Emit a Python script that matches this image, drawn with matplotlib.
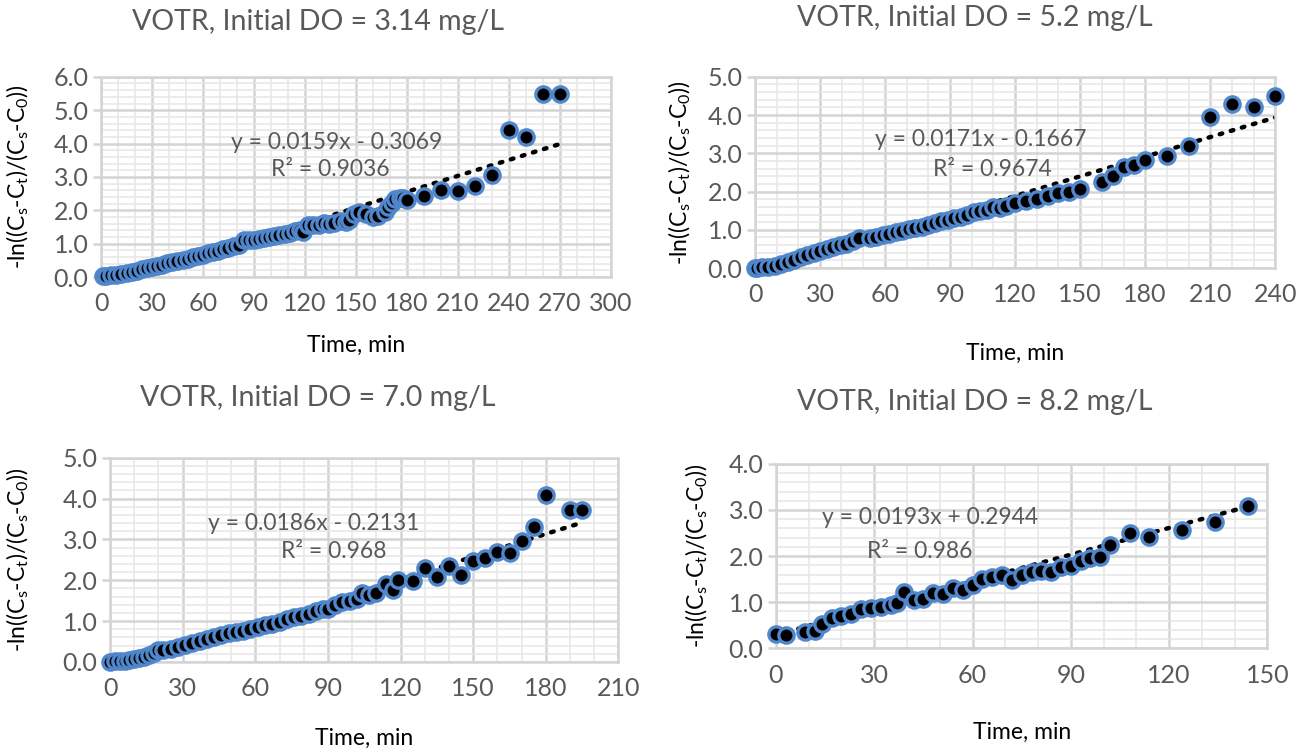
import numpy as np
import matplotlib
matplotlib.use('Agg')
import matplotlib.pyplot as plt
from matplotlib.ticker import MultipleLocator, FormatStrFormatter

plt.rcParams['font.family'] = ['Lato', 'DejaVu Sans']
plt.rcParams['mathtext.fontset'] = 'custom'
plt.rcParams['mathtext.rm'] = 'Lato'
plt.rcParams['mathtext.default'] = 'regular'

# --- data ---
titles = ['VOTR, Initial DO = 3.14 mg/L', 'VOTR, Initial DO = 5.2 mg/L',
          'VOTR, Initial DO = 7.0 mg/L', 'VOTR, Initial DO = 8.2 mg/L']

t1 = [1, 3, 6, 9, 12, 15, 18, 21, 24, 27, 30, 33, 36, 39, 42, 45, 48, 51, 54, 57,
      60, 63, 66, 69, 72, 75, 78, 81, 84, 87, 90, 93, 96, 99, 102, 105, 108, 111, 114, 117,
      119, 122, 125, 128, 131, 134, 137,
      141, 144, 146, 149, 152, 156, 160, 163, 167, 169, 171, 173, 176, 178, 180,
      190, 200, 210, 220, 230, 240, 250, 260, 270]
y1 = [0.02, 0.03, 0.05, 0.07, 0.09, 0.12, 0.16, 0.19, 0.23, 0.27,
      0.30, 0.34, 0.37, 0.41, 0.45, 0.49, 0.52, 0.55, 0.59, 0.63,
      0.67, 0.71, 0.75, 0.78, 0.83, 0.88, 0.92, 0.97, 1.12, 1.10,
      1.11, 1.14, 1.16, 1.19, 1.22, 1.26, 1.29, 1.33, 1.38, 1.41,
      1.36, 1.56, 1.55, 1.56, 1.62, 1.58, 1.61,
      1.68, 1.66, 1.70, 1.90, 1.94, 1.88, 1.80, 1.84, 1.95, 2.10, 2.22, 2.33, 2.38, 2.38, 2.30,
      2.42, 2.60, 2.57, 2.74, 3.06, 4.42, 4.21, 5.49, 5.49]

t2 = [0, 1, 3, 6, 9, 12, 15, 18, 21, 24, 27, 30, 33, 36, 39, 42, 45, 48,
      53, 56, 59, 62, 65, 68, 71, 74, 77, 80, 83, 86, 89, 92, 95, 98, 101, 104, 107, 110, 113, 116,
      120, 125, 130, 135, 140, 145, 150,
      160, 165, 170, 175, 180, 190, 200, 210, 220, 230, 240]
y2 = [0.0, 0.0, 0.02, 0.04, 0.06, 0.10, 0.16, 0.22, 0.28, 0.34, 0.40, 0.45, 0.50, 0.55, 0.60, 0.63, 0.70, 0.78,
      0.78, 0.82, 0.87, 0.90, 0.94, 0.98, 1.02, 1.05, 1.08, 1.12, 1.17, 1.22, 1.26, 1.30, 1.34, 1.40, 1.46,
      1.50, 1.52, 1.60, 1.58, 1.62,
      1.70, 1.75, 1.80, 1.88, 1.95, 2.00, 2.08,
      2.25, 2.40, 2.65, 2.70, 2.83, 2.93, 3.20, 3.96, 4.30, 4.20, 4.51]

t3 = [0, 2, 4, 6, 8, 10, 12, 14, 16, 18, 20, 22,
      25, 28, 31, 34, 37, 40, 43, 46, 49, 52, 55, 58, 61, 64, 67, 70, 73, 76, 79, 82, 85, 88,
      90, 93, 96, 99, 102, 104, 107, 110, 114, 117, 119,
      125, 130, 135, 140, 145, 150, 155, 160, 165, 170, 175, 180, 190, 195]
y3 = [0.0, 0.01, 0.02, 0.03, 0.05, 0.07, 0.09, 0.12, 0.16, 0.22, 0.28, 0.30,
      0.32, 0.36, 0.41, 0.46, 0.52, 0.56, 0.60, 0.66, 0.72, 0.74, 0.76, 0.80, 0.85, 0.90, 0.94,
      0.98, 1.04, 1.10, 1.13, 1.17, 1.24, 1.30,
      1.30, 1.40, 1.47, 1.48, 1.55, 1.68, 1.64, 1.68, 1.92, 1.76, 2.00,
      1.97, 2.30, 2.09, 2.36, 2.13, 2.46, 2.54, 2.70, 2.66, 2.95, 3.30, 4.10, 3.73, 3.73]

t4 = [0, 3, 9, 12, 14, 17, 20, 23, 26, 29, 32, 35, 37, 39, 42, 45, 48, 51, 54, 57,
      60, 63, 66, 69, 72, 75, 78, 81, 84, 87, 90, 93, 96, 99, 102, 108, 114, 124, 134, 144]
y4 = [0.32, 0.29, 0.36, 0.37, 0.52, 0.66, 0.70, 0.74, 0.85, 0.88,
      0.90, 0.95, 0.98, 1.23, 1.05, 1.08, 1.21, 1.17, 1.30, 1.26,
      1.37, 1.50, 1.54, 1.60, 1.49, 1.60, 1.66, 1.68, 1.66, 1.77, 1.78, 1.90, 1.96, 1.98,
      2.24, 2.49, 2.42, 2.57, 2.74, 3.08]

slopes = [0.0159, 0.0171, 0.0186, 0.0193]
intercepts = [-0.3069, -0.1667, -0.2131, 0.2944]
r2_labels = ['0.9036', '0.9674', '0.968', '0.986']
eq_labels = ['y = 0.0159x - 0.3069', 'y = 0.0171x - 0.1667',
             'y = 0.0186x - 0.2131', 'y = 0.0193x + 0.2944']
xmax = [300, 240, 210, 150]
ymax = [6.0, 5.0, 5.0, 4.0]

times = [t1, t2, t3, t4]
values = [y1, y2, y3, y4]

# layout (figure fractions) and text spots (axes fractions)
boxes = [[0.0773, 0.632, 0.390, 0.266],
         [0.5777, 0.644, 0.398, 0.254],
         [0.0842, 0.121, 0.389, 0.271],
         [0.5937, 0.139, 0.376, 0.245]]
eq_pos = [(0.463, 0.67), (0.433, 0.67), (0.40, 0.68), (0.313, 0.707)]
r2_pos = [(0.449, 0.535), (0.456, 0.513), (0.44, 0.54), (0.293, 0.527)]
title_pos = [(318, 22), (975, 18), (318, 398), (975, 402)]
xlabel_y = [345, 353, 738, 732]
ylabel_x = [18, 680, 18, 697]

gray = '#595959'
edge_blue = '#4F86CC'

fig = plt.figure(figsize=(13.07, 7.53), dpi=100)
W, H = 1307, 753

for i in range(4):
    ax = fig.add_axes(boxes[i])
    t = np.array(times[i], dtype=float)
    y = np.array(values[i], dtype=float)

    # trendline
    xx = np.array([t.min(), t.max()])
    ax.plot(xx, slopes[i] * xx + intercepts[i], color='black',
            linestyle=(0, (0.6, 2.0)), linewidth=3.2, dash_capstyle='round', zorder=2)

    ax.plot(t, y, 'o', markersize=11, markerfacecolor='black',
            markeredgecolor=edge_blue, markeredgewidth=2.4, zorder=3, clip_on=False)

    ax.set_xlim(0, xmax[i])
    ax.set_ylim(0, ymax[i])
    ax.xaxis.set_major_locator(MultipleLocator(30))
    ax.xaxis.set_minor_locator(MultipleLocator(10))
    ax.yaxis.set_major_locator(MultipleLocator(1.0))
    ax.yaxis.set_minor_locator(MultipleLocator(0.2))
    ax.yaxis.set_major_formatter(FormatStrFormatter('%.1f'))

    ax.grid(which='major', color='#D4D4D4', linewidth=1.8, zorder=0)
    ax.grid(which='minor', color='#E6E6E6', linewidth=1.1, zorder=0)
    ax.set_axisbelow(True)
    for s in ax.spines.values():
        s.set_color('#D4D4D4')
        s.set_linewidth(1.8)

    ax.tick_params(axis='both', which='major', labelsize=18, labelcolor=gray,
                   color='#D4D4D4', width=1.8)
    ax.tick_params(axis='y', which='major', length=6, pad=3)
    ax.tick_params(axis='x', which='major', length=0, pad=11)
    ax.tick_params(which='minor', length=0)

    ax.text(eq_pos[i][0], eq_pos[i][1], eq_labels[i], transform=ax.transAxes,
            ha='center', va='center', fontsize=16.5, color=gray)
    ax.text(r2_pos[i][0], r2_pos[i][1], 'R² = ' + r2_labels[i], transform=ax.transAxes,
            ha='center', va='center', fontsize=16.5, color=gray)

    fig.text(title_pos[i][0] / W, 1 - title_pos[i][1] / H, titles[i],
             ha='center', va='center', fontsize=20.5, color=gray)
    cx = boxes[i][0] + boxes[i][2] / 2
    fig.text(cx, 1 - xlabel_y[i] / H, 'Time, min', ha='center', va='center',
             fontsize=16.5, color='black')
    cy = boxes[i][1] + boxes[i][3] / 2
    fig.text(ylabel_x[i] / W, cy,
             r'-ln((C$_{s}$-C$_{t}$)/(C$_{s}$-C$_{0}$))',
             ha='center', va='center', rotation=90, fontsize=16.5, color='black')

fig.savefig('out.png', dpi=100)
